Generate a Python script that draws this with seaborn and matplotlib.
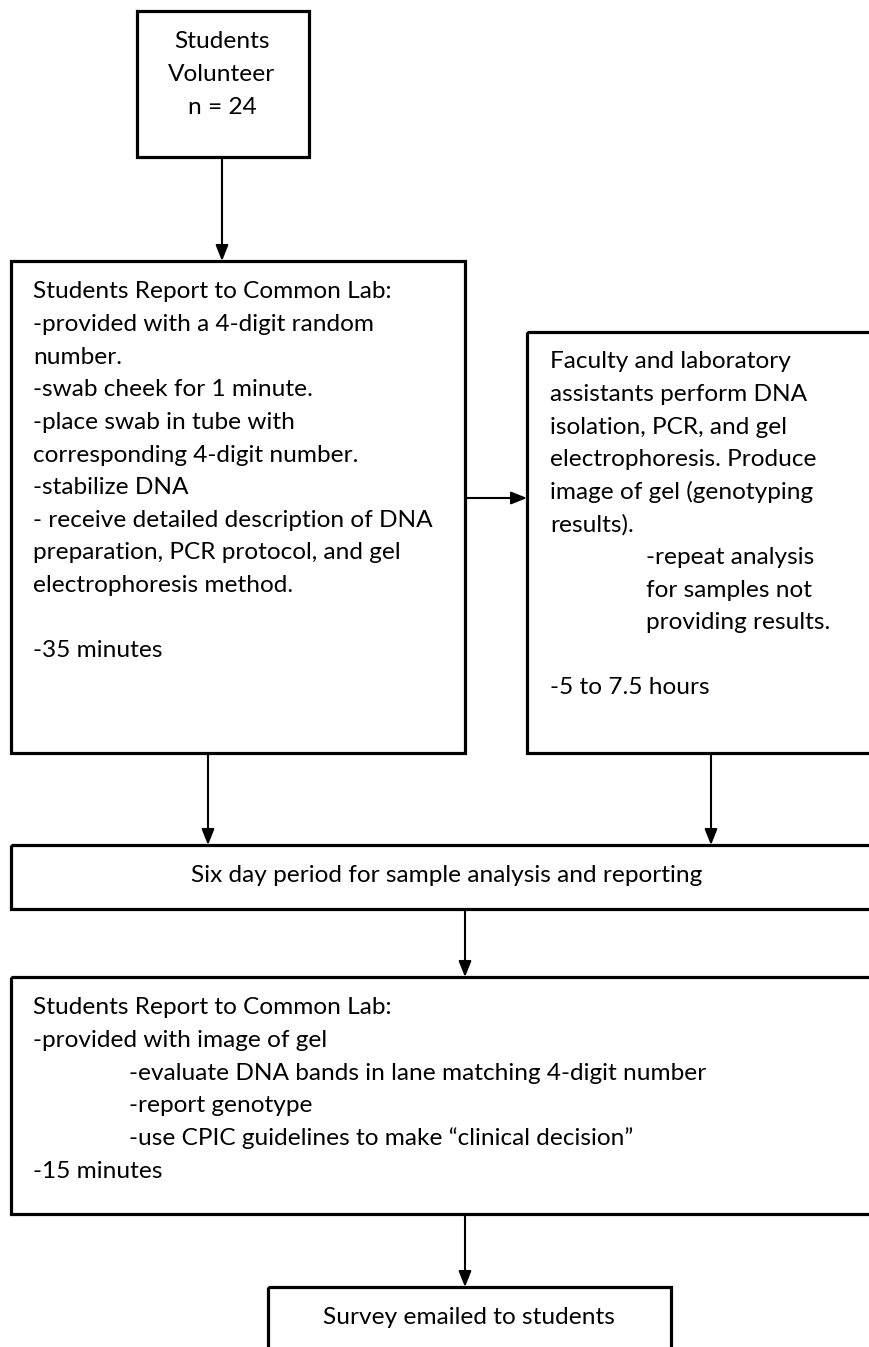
import matplotlib
matplotlib.use("Agg")
import matplotlib.pyplot as plt
import seaborn as sns
from matplotlib.patches import Rectangle

sns.set_style("white")
plt.rcParams['font.family'] = ['Lato', 'DejaVu Sans']

# box texts
start_lines = ["Students", "Volunteer", "n = 24"]
report1_lines = [
    "Students Report to Common Lab:",
    "-provided with a 4-digit random",
    "number.",
    "-swab cheek for 1 minute.",
    "-place swab in tube with",
    "corresponding 4-digit number.",
    "-stabilize DNA",
    "- receive detailed description of DNA",
    "preparation, PCR protocol, and gel",
    "electrophoresis method.",
    "",
    "-35 minutes",
]
faculty_lines = [
    "Faculty and laboratory",
    "assistants perform DNA",
    "isolation, PCR, and gel",
    "electrophoresis. Produce",
    "image of gel (genotyping",
    "results).",
    "\t-repeat analysis",
    "\tfor samples not",
    "\tproviding results.",
    "",
    "-5 to 7.5 hours",
]
period_text = "Six day period for sample analysis and reporting"
report2_lines = [
    "Students Report to Common Lab:",
    "-provided with image of gel",
    "\t-evaluate DNA bands in lane matching 4-digit number",
    "\t-report genotype",
    "\t-use CPIC guidelines to make \u201cclinical decision\u201d",
    "-15 minutes",
]
survey_text = "Survey emailed to students"

# layout in pixel coordinates (x0, y0, x1, y1)
boxes = {
    "start": (137, 11, 309, 157),
    "report1": (11, 261, 465, 753),
    "faculty": (527, 332, 885, 753),
    "period": (11, 845, 885, 909),
    "report2": (11, 977, 885, 1214),
    "survey": (268, 1287, 671, 1360),
}

fig = plt.figure(figsize=(8.7, 13.47), dpi=100)
ax = fig.add_axes([0, 0, 1, 1])
ax.set_xlim(0, 870)
ax.set_ylim(1347, 0)
ax.axis("off")

for name, (x0, y0, x1, y1) in boxes.items():
    ax.add_patch(Rectangle((x0, y0), x1 - x0, y1 - y0, fill=False,
                           edgecolor="black", linewidth=2.3, clip_on=False))

fs = 17.6
lh = 32.6


def draw_lines(lines, x, y, indent_x=None, ha="left"):
    for i, line in enumerate(lines):
        xx = x
        if line.startswith("\t"):
            xx = indent_x
            line = line[1:]
        ax.text(xx, y + i * lh, line, fontsize=fs, ha=ha, va="center",
                color="black")


draw_lines(start_lines, 222, 42, ha="center")
draw_lines(report1_lines, 33, 292)
draw_lines(faculty_lines, 550, 362, indent_x=646)
ax.text(447, 875, period_text, fontsize=fs, ha="center", va="center", color="black")
draw_lines(report2_lines, 33, 1008, indent_x=129)
ax.text(469, 1318, survey_text, fontsize=fs, ha="center", va="center", color="black")

# arrows (tail -> head)
arrows = [
    ((222, 157), (222, 261)),
    ((465, 498), (527, 498)),
    ((208, 753), (208, 845)),
    ((711, 753), (711, 845)),
    ((465, 909), (465, 977)),
    ((465, 1214), (465, 1287)),
]
for (tx, ty), (hx, hy) in arrows:
    ax.annotate("", xy=(hx, hy), xytext=(tx, ty),
                arrowprops=dict(arrowstyle="-|>,head_length=0.95,head_width=0.38",
                                color="black", lw=1.5, shrinkA=0, shrinkB=0))

plt.savefig("out.png", dpi=100)
plt.close()
